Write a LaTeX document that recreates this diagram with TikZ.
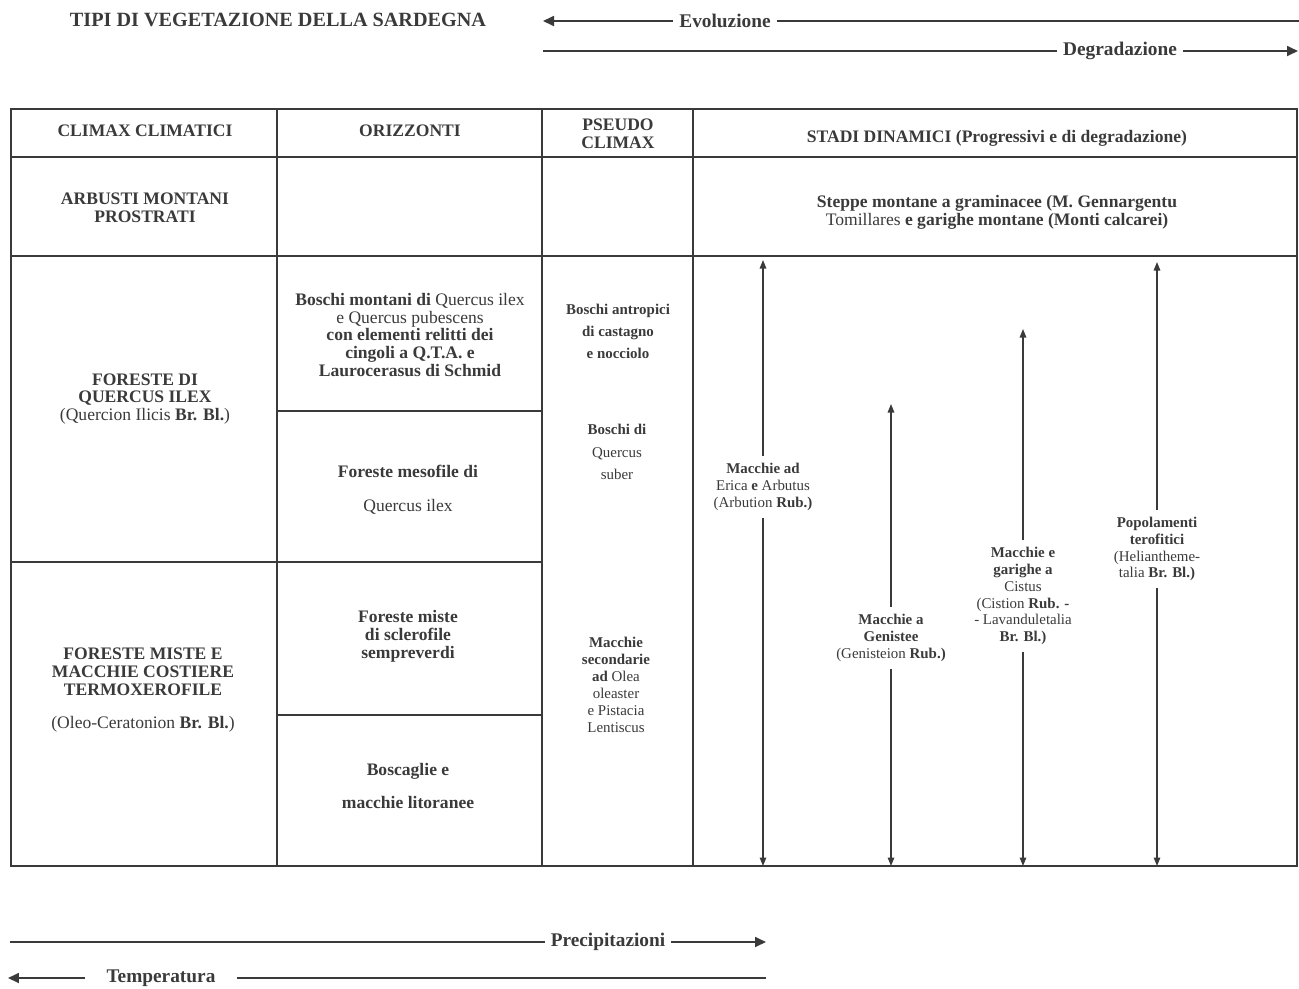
\documentclass[tikz,border=0pt]{standalone}
\usepackage{fontspec}
\setmainfont{Liberation Serif}
\usepackage{tikz}
\usetikzlibrary{arrows.meta}
\definecolor{ink}{HTML}{3A3A3A}

\begin{document}
\begin{tikzpicture}[x=0.02cm,y=-0.02cm,
  every node/.style={text=ink,align=center},
  rule/.style={draw=ink,line width=1.1pt},
  big/.style={font=\fontsize{11}{13}\selectfont\bfseries},
  testa/.style={font=\fontsize{10}{10.2}\selectfont\bfseries},
  cell/.style={font=\fontsize{10}{10.2}\selectfont},
  tiny/.style={font=\fontsize{8.5}{9.6}\selectfont,inner ysep=4pt},
  stadio/.style={draw=ink,line width=0.8pt,-{Triangle[length=0.17cm,width=0.13cm]}},
  asse/.style={draw=ink,line width=1pt},
  asseTip/.style={asse,-{Triangle[length=0.22cm,width=0.2cm]}}]

\useasboundingbox (0,0) rectangle (1299,988);

% titolo e assi in alto
\node[font=\fontsize{11.5}{13}\selectfont\bfseries] (titolo) at (278,20) {TIPI DI VEGETAZIONE DELLA SARDEGNA};

\node[big] (evo) at (725,21) {Evoluzione};
\coordinate (evoS) at (543,21);
\coordinate (evoE) at (1299,21);
\draw[asseTip] (evo) -- (evoS);
\draw[asse] (evo) -- (evoE);

\node[big] (degr) at (1120,51) {Degradazione};
\coordinate (degrS) at (543,51);
\coordinate (degrE) at (1298,51);
\draw[asse] (degr) -- (degrS);
\draw[asseTip] (degr) -- (degrE);

% tabella
\draw[rule] (11,109) rectangle (1297,866);
\draw[rule] (277,109) -- (277,866) (542,109) -- (542,866) (693,109) -- (693,866);
\draw[rule] (11,157) -- (1297,157) (11,256) -- (1297,256);
\draw[rule] (11,562) -- (277,562);
\draw[rule] (277,411) -- (542,411) (277,562) -- (542,562) (277,715) -- (542,715);

% intestazioni
\node[testa] (hClimax) at (145,131) {CLIMAX CLIMATICI};
\node[testa] (hOriz) at (410,131) {ORIZZONTI};
\node[testa] (hPseudo) at (618,134) {PSEUDO\\CLIMAX};
\node[testa] (hStadi) at (997,138) {STADI DINAMICI (Progressivi e di degradazione)};

% riga montana
\node[testa] (arbusti) at (145,208) {ARBUSTI MONTANI\\PROSTRATI};
\node[cell] (steppe) at (997,212) {\textbf{Steppe montane a graminacee (M. Gennargentu}\\Tomillares \textbf{e garighe montane (Monti calcarei)}};

% climax climatici
\node[cell] (ilex) at (145,399) {\textbf{FORESTE DI}\\\textbf{QUERCUS ILEX}\\(Quercion Ilicis \textbf{Br. Bl.})};
\node[cell] (oleo) at (143,690) {\textbf{FORESTE MISTE E}\\\textbf{MACCHIE COSTIERE}\\\textbf{TERMOXEROFILE}\\[9pt](Oleo-Ceratonion \textbf{Br. Bl.})};

% orizzonti
\node[cell] (montani) at (410,335) {\textbf{Boschi montani di} Quercus ilex\\e Quercus pubescens\\\textbf{con elementi relitti dei}\\\textbf{cingoli a Q.T.A. e}\\\textbf{Laurocerasus di Schmid}};
\node[cell] (mesofile) at (408,490) {\textbf{Foreste mesofile di}\\[9pt]Quercus ilex};
\node[cell] (sclerofile) at (408,636) {\textbf{Foreste miste}\\\textbf{di sclerofile}\\\textbf{sempreverdi}};
\node[cell] (litoranee) at (408,786) {\textbf{Boscaglie e}\\[9pt]\textbf{macchie litoranee}};

% pseudo climax
\node[font=\fontsize{8.5}{12.5}\selectfont] (antropici) at (618,331) {\textbf{Boschi antropici}\\\textbf{di castagno}\\\textbf{e nocciolo}};
\node[font=\fontsize{8.5}{13}\selectfont] (suber) at (617,452) {\textbf{Boschi di}\\Quercus\\suber};
\node[tiny] (olea) at (616,685) {\textbf{Macchie}\\\textbf{secondarie}\\\textbf{ad} Olea\\oleaster\\e Pistacia\\Lentiscus};

% stadi dinamici
\node[tiny] (erica) at (763,487) {\textbf{Macchie ad}\\Erica \textbf{e} Arbutus\\(Arbution \textbf{Rub.)}};
\coordinate (ericaT) at (763,260);
\coordinate (ericaB) at (763,866);
\draw[stadio] (erica) -- (ericaT);
\draw[stadio] (erica) -- (ericaB);

\node[tiny] (genista) at (891,638) {\textbf{Macchie a}\\\textbf{Genistee}\\(Genisteion \textbf{Rub.)}};
\coordinate (genistaT) at (891,404);
\coordinate (genistaB) at (891,866);
\draw[stadio] (genista) -- (genistaT);
\draw[stadio] (genista) -- (genistaB);

\node[tiny] (cistus) at (1023,596) {\textbf{Macchie e}\\\textbf{garighe a}\\Cistus\\(Cistion \textbf{Rub. -}\\- Lavanduletalia\\\textbf{Br. Bl.)}};
\coordinate (cistusT) at (1023,329);
\coordinate (cistusB) at (1023,866);
\draw[stadio] (cistus) -- (cistusT);
\draw[stadio] (cistus) -- (cistusB);

\node[tiny] (terofiti) at (1157,549) {\textbf{Popolamenti}\\\textbf{terofitici}\\(Heliantheme-\\talia \textbf{Br. Bl.)}};
\coordinate (terofitiT) at (1157,262);
\coordinate (terofitiB) at (1157,866);
\draw[stadio] (terofiti) -- (terofitiT);
\draw[stadio] (terofiti) -- (terofitiB);

% assi in basso
\node[big] (prec) at (608,942) {Precipitazioni};
\coordinate (precS) at (10,942);
\coordinate (precE) at (766,942);
\draw[asse] (prec) -- (precS);
\draw[asseTip] (prec) -- (precE);

\node[big,inner xsep=12pt] (temp) at (161,978) {Temperatura};
\coordinate (tempS) at (8,978);
\coordinate (tempE) at (766,978);
\draw[asseTip] (temp) -- (tempS);
\draw[asse] (temp) -- (tempE);
\end{tikzpicture}
\end{document}
